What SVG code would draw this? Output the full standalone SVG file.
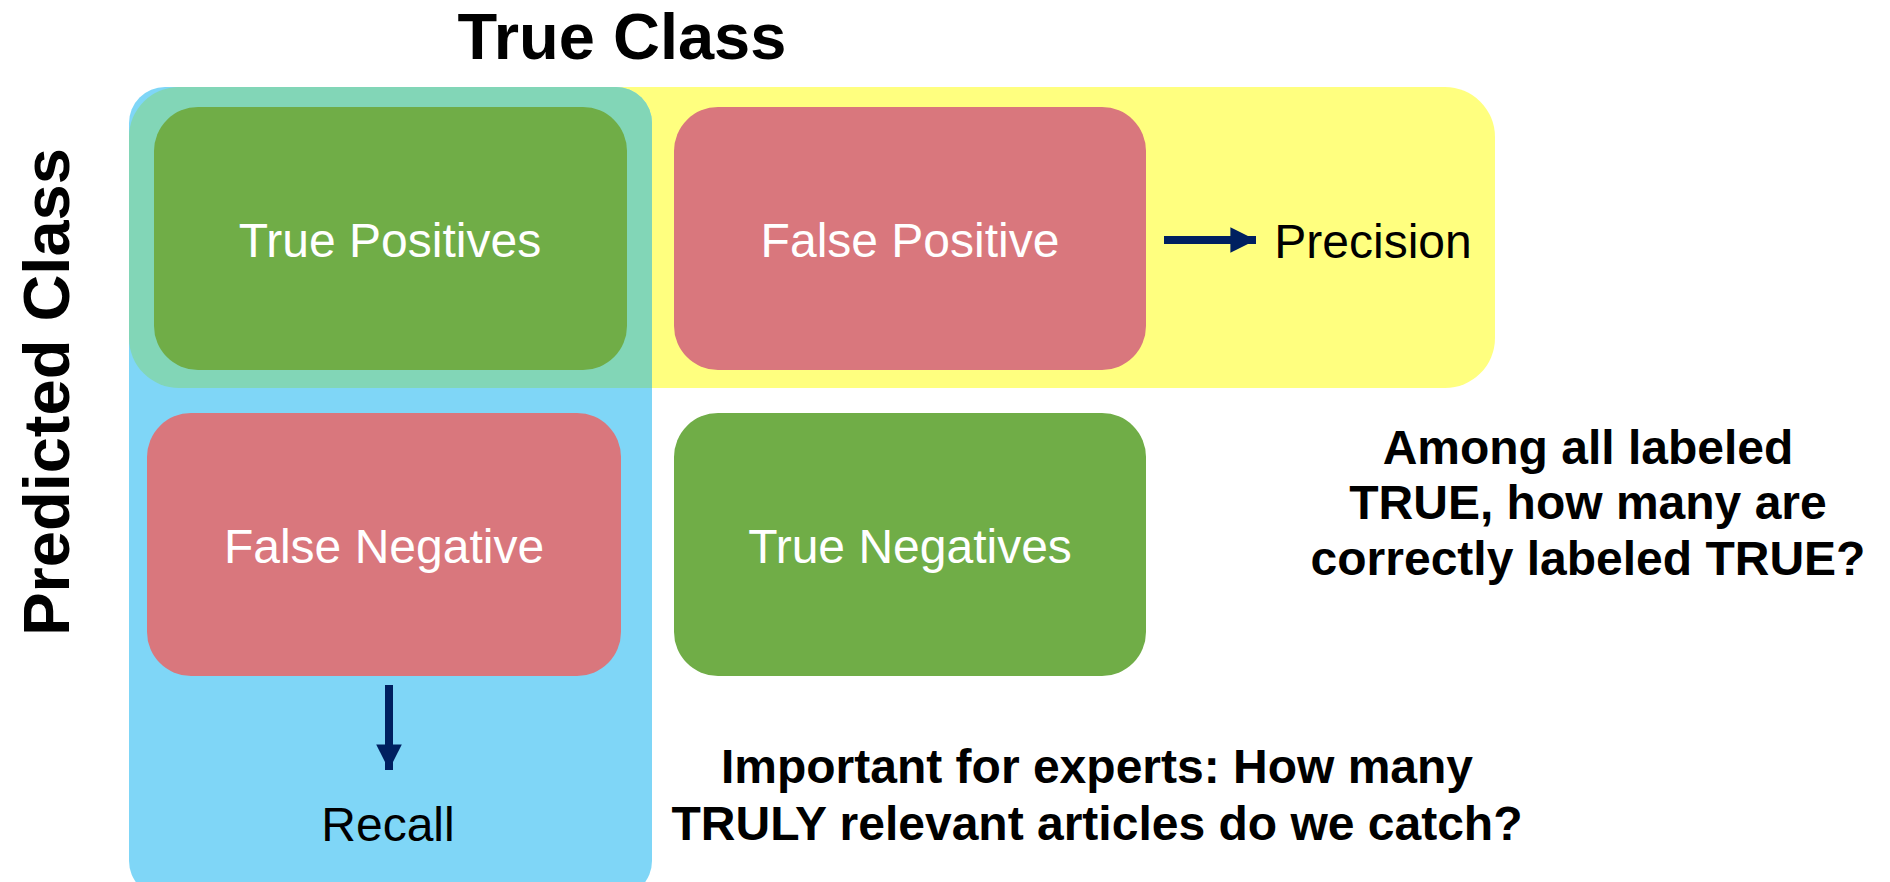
<svg xmlns="http://www.w3.org/2000/svg" width="1890" height="882" viewBox="0 0 1890 882">
<style>
.node-text{font-family:"Liberation Sans",Arial,sans-serif;font-size:48px;fill:#ffffff;text-anchor:middle}
.label{font-family:"Liberation Sans",Arial,sans-serif;font-size:48px;fill:#000000;text-anchor:middle}
.bold{font-family:"Liberation Sans",Arial,sans-serif;font-weight:bold;font-size:48px;fill:#000000;text-anchor:middle}
.title{font-family:"Liberation Sans",Arial,sans-serif;font-weight:bold;font-size:65px;fill:#000000;text-anchor:middle}
.green{fill:#70AD47}
.red{fill:#D9777D}
.conn{stroke:#002060;stroke-width:8;fill:none}
</style>
<defs>
<marker id="ah" viewBox="0 0 10 10" refX="10" refY="5" markerWidth="3.2" markerHeight="3.2" orient="auto" markerUnits="strokeWidth">
<path d="M0,0 L10,5 L0,10 Z" fill="#002060"/>
</marker>
<clipPath id="blueClip"><rect x="129" y="87" width="523" height="810" rx="36" ry="36"/></clipPath>
</defs>
<rect width="1890" height="882" fill="#ffffff"/>
<g id="regions">
<rect x="129" y="87" width="1366" height="301" rx="50" ry="50" fill="#FFFF7F"/>
<rect x="129" y="87" width="523" height="810" rx="36" ry="36" fill="#7FD6F7"/>
<rect x="129" y="87" width="1366" height="301" rx="50" ry="50" fill="#82D6B7" clip-path="url(#blueClip)"/>
</g>
<text class="title" x="622" y="59">True Class</text>
<text class="title" transform="translate(69,392) rotate(-90)" x="0" y="0">Predicted Class</text>
<g id="tp">
<rect class="green" x="154" y="107" width="473" height="263" rx="44" ry="44"/>
<text class="node-text" x="390" y="257">True Positives</text>
</g>
<g id="fp">
<rect class="red" x="674" y="107" width="472" height="263" rx="44" ry="44"/>
<text class="node-text" x="910" y="257">False Positive</text>
</g>
<g id="fn">
<rect class="red" x="147" y="413" width="474" height="263" rx="44" ry="44"/>
<text class="node-text" x="384" y="563">False Negative</text>
</g>
<g id="tn">
<rect class="green" x="674" y="413" width="472" height="263" rx="44" ry="44"/>
<text class="node-text" x="910" y="563">True Negatives</text>
</g>
<g id="precision">
<text class="label" x="1373" y="258">Precision</text>
</g>
<g id="recall">
<text class="label" x="388" y="841">Recall</text>
</g>
<g id="connectors">
<line class="conn" x1="1164" y1="240" x2="1256" y2="240" marker-end="url(#ah)"/>
<line class="conn" x1="389" y1="685" x2="389" y2="770" marker-end="url(#ah)"/>
</g>
<g id="notes">
<text class="bold" x="1588" y="464">Among all labeled</text>
<text class="bold" x="1588" y="519">TRUE, how many are</text>
<text class="bold" x="1588" y="575">correctly labeled TRUE?</text>
<text class="bold" x="1097" y="783">Important for experts: How many</text>
<text class="bold" x="1097" y="840">TRULY relevant articles do we catch?</text>
</g>
</svg>
